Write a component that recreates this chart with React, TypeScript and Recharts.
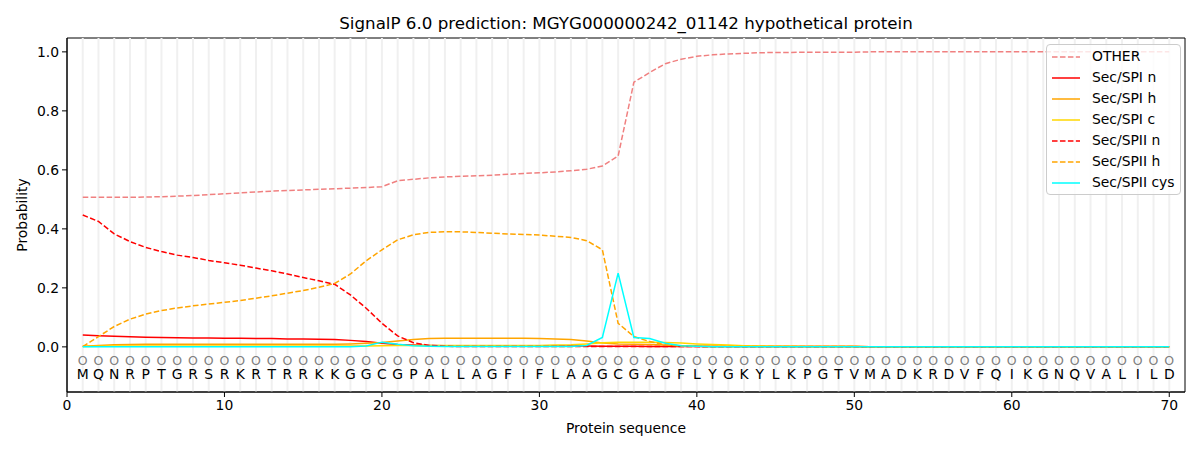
import React from 'react';
import { LineChart, Line, XAxis, YAxis, ReferenceLine, ReferenceArea, Legend, Label } from 'recharts';

const residues = ['M','Q','N','R','P','T','G','R','S','R','K','R','T','R','R','K','K','G','G','C','G','P','A','L','L','A','G','F','I','F','L','A','A','G','C','G','A','G','F','L','Y','G','K','Y','L','K','P','G','T','V','M','A','D','K','R','D','V','F','Q','I','K','G','N','Q','V','A','L','I','L','D'];

const positions = residues.map((_, i) => i + 1);

const otherProb = [
  0.507,0.507,0.507,0.507,0.508,0.509,0.511,0.513,0.516,0.519,
  0.522,0.525,0.528,0.530,0.532,0.534,0.536,0.538,0.540,0.543,
  0.563,0.568,0.573,0.576,0.578,0.580,0.582,0.585,0.588,0.590,
  0.593,0.597,0.602,0.613,0.647,0.897,0.930,0.960,0.975,0.985,
  0.990,0.993,0.995,0.997,0.998,0.998,0.999,0.999,0.999,0.999,
  1.0,1.0,1.0,1.0,1.0,1.0,1.0,1.0,1.0,1.0,
  1.0,1.0,1.0,1.0,1.0,1.0,1.0,1.0,1.0,1.0,
];

const spiN = [
  0.040,0.038,0.036,0.034,0.033,0.032,0.031,0.030,0.030,0.029,
  0.029,0.028,0.028,0.027,0.027,0.026,0.025,0.022,0.018,0.012,
  0.008,0.006,0.005,0.004,0.004,0.004,0.003,0.003,0.003,0.003,
  0.003,0.003,0.003,0.002,0.002,0.002,0.001,0.001,0.001,0.001,
  0.001,0.001,0.001,0.001,0.001,0.001,0.001,0.001,0.001,0.001,
  0,0,0,0,0,0,0,0,0,0,
  0,0,0,0,0,0,0,0,0,0,
];

const spiH = [
  0.002,0.005,0.007,0.008,0.009,0.009,0.009,0.009,0.009,0.009,
  0.009,0.009,0.009,0.009,0.009,0.009,0.009,0.010,0.012,0.015,
  0.020,0.025,0.028,0.029,0.029,0.029,0.029,0.029,0.029,0.028,
  0.027,0.025,0.020,0.013,0.010,0.009,0.008,0.006,0.004,0.003,
  0.002,0.002,0.001,0.001,0.001,0.001,0.001,0.001,0.001,0.001,
  0,0,0,0,0,0,0,0,0,0,
  0,0,0,0,0,0,0,0,0,0,
];

const spiC = [
  0.001,0.002,0.003,0.003,0.003,0.003,0.003,0.003,0.003,0.003,
  0.003,0.003,0.003,0.003,0.003,0.003,0.003,0.003,0.003,0.004,
  0.005,0.005,0.005,0.005,0.005,0.005,0.005,0.005,0.005,0.005,
  0.006,0.007,0.010,0.014,0.016,0.016,0.016,0.015,0.013,0.010,
  0.008,0.006,0.004,0.003,0.002,0.002,0.001,0.001,0.001,0.001,
  0,0,0,0,0,0,0,0,0,0,
  0,0,0,0,0,0,0,0,0,0,
];

const spiiN = [
  0.447,0.425,0.383,0.357,0.337,0.323,0.311,0.303,0.293,0.285,
  0.277,0.267,0.258,0.247,0.235,0.224,0.212,0.176,0.131,0.080,
  0.037,0.014,0.005,0.002,0.001,0.001,0.001,0.001,0.001,0.001,
  0.001,0.001,0.001,0.001,0.001,0.001,0.001,0.001,0.001,0.001,
  0,0,0,0,0,0,0,0,0,0,
  0,0,0,0,0,0,0,0,0,0,
  0,0,0,0,0,0,0,0,0,0,
];

const spiiH = [
  0.001,0.035,0.069,0.094,0.111,0.123,0.132,0.139,0.145,0.151,
  0.157,0.165,0.173,0.182,0.191,0.202,0.215,0.247,0.292,0.329,
  0.363,0.380,0.388,0.390,0.390,0.388,0.385,0.383,0.381,0.379,
  0.375,0.371,0.360,0.329,0.080,0.035,0.018,0.007,0.003,0.002,
  0.001,0.001,0.001,0.001,0.001,0.001,0.001,0.001,0.001,0.001,
  0,0,0,0,0,0,0,0,0,0,
  0,0,0,0,0,0,0,0,0,0,
];

const spiiCys = [
  0,0,0,0,0,0,0,0,0,0,
  0,0,0,0,0,0,0,0,0.003,0.016,
  0.009,0.004,0.002,0.001,0.001,0.001,0.001,0.001,0.001,0.001,
  0.001,0.001,0.005,0.032,0.250,0.032,0.028,0.012,0.004,0.002,
  0,0,0,0,0,0,0,0,0,0,
  0,0,0,0,0,0,0,0,0,0,
  0,0,0,0,0,0,0,0,0,0,
];

const xTicks = [0, 10, 20, 30, 40, 50, 60, 70];
const yTicks = [0, 0.2, 0.4, 0.6, 0.8, 1.0];

const X_DOMAIN: [number, number] = [0, 71];
const Y_DOMAIN: [number, number] = [-0.153, 1.047];
const CIRCLE_ROW_Y = -0.063;
const LETTER_ROW_Y = -0.1105;

const SERIES = [
  { key: 'other', name: 'OTHER', color: '#f08080', dash: true },
  { key: 'spiN', name: 'Sec/SPI n', color: '#ff0000', dash: false },
  { key: 'spiH', name: 'Sec/SPI h', color: '#ffa500', dash: false },
  { key: 'spiC', name: 'Sec/SPI c', color: '#ffd700', dash: false },
  { key: 'spiiN', name: 'Sec/SPII n', color: '#ff0000', dash: true },
  { key: 'spiiH', name: 'Sec/SPII h', color: '#ffa500', dash: true },
  { key: 'cys', name: 'Sec/SPII cys', color: '#00ffff', dash: false },
];

const data = positions.map((p, i) => ({
  pos: p,
  residue: residues[i],
  other: otherProb[i],
  spiN: spiN[i],
  spiH: spiH[i],
  spiC: spiC[i],
  spiiN: spiiN[i],
  spiiH: spiiH[i],
  cys: spiiCys[i],
}));

const FONT = '"DejaVu Sans", sans-serif';
const DASH = '5.55 2.4';

const LegendBox = () => (
  <div
    style={{
      border: '1px solid #cccccc',
      borderRadius: 4,
      background: 'rgba(255,255,255,0.8)',
      padding: '1px 5px 1px 5px',
      fontSize: 13.9,
      lineHeight: '21px',
      color: '#000',
      fontFamily: FONT,
      whiteSpace: 'nowrap',
    }}
  >
    {SERIES.map((s) => (
      <div key={s.key} style={{ display: 'flex', alignItems: 'center', height: 21 }}>
        <svg width={28} height={10} style={{ marginRight: 12, display: 'block' }}>
          <line x1={0} y1={5} x2={28} y2={5} stroke={s.color} strokeWidth={1.5} strokeDasharray={s.dash ? DASH : undefined} />
        </svg>
        <span>{s.name}</span>
      </div>
    ))}
  </div>
);

export default function App() {
  return (
    <div style={{ position: 'absolute', left: 0, top: 0, width: 1200, height: 450, fontFamily: FONT, background: '#fff' }}>
      <div
        style={{
          position: 'absolute',
          left: 67,
          width: 1118,
          top: 13,
          textAlign: 'center',
          fontSize: 16.7,
          lineHeight: '20px',
          color: '#000',
        }}
      >
        SignalP 6.0 prediction: MGYG000000242_01142 hypothetical protein
      </div>
      <LineChart width={1200} height={450} data={data} margin={{ top: 38, right: 15, left: 0, bottom: 0 }}>
        {positions.map((p) => (
          <ReferenceLine key={`g${p}`} x={p} stroke="#f0f0f0" strokeWidth={2} />
        ))}
        <XAxis
          dataKey="pos"
          type="number"
          domain={X_DOMAIN}
          ticks={xTicks}
          height={58}
          tickSize={5}
          tickMargin={3}
          stroke="#000"
          tick={{ fill: '#000', fontSize: 13.9 }}
          allowDataOverflow
        >
          <Label
            content={({ viewBox }: any) => (
              <text
                x={viewBox.x + viewBox.width / 2}
                y={viewBox.y + 41}
                textAnchor="middle"
                fontSize={13.9}
                fill="#000"
              >
                Protein sequence
              </text>
            )}
          />
        </XAxis>
        <YAxis
          type="number"
          domain={Y_DOMAIN}
          ticks={yTicks}
          width={67}
          tickSize={5}
          tickMargin={3}
          stroke="#000"
          tick={{ fill: '#000', fontSize: 13.9 }}
          tickFormatter={(v: number) => v.toFixed(1)}
          allowDataOverflow
        >
          <Label
            content={({ viewBox }: any) => {
              const cy = viewBox.y + viewBox.height / 2;
              return (
                <text
                  x={27}
                  y={cy}
                  transform={`rotate(-90 27 ${cy})`}
                  textAnchor="middle"
                  fontSize={13.9}
                  fill="#000"
                >
                  Probability
                </text>
              );
            }}
          />
        </YAxis>
        <ReferenceArea x1={X_DOMAIN[0]} x2={X_DOMAIN[1]} y1={Y_DOMAIN[0]} y2={Y_DOMAIN[1]} fill="none" stroke="#000" strokeWidth={1} fillOpacity={0} />
        {SERIES.map((s) => (
          <Line
            key={s.key}
            dataKey={s.key}
            name={s.name}
            stroke={s.color}
            strokeWidth={1.5}
            strokeDasharray={s.dash ? DASH : undefined}
            dot={false}
            activeDot={false}
            isAnimationActive={false}
            type="linear"
          />
        ))}
        <Line
          dataKey={() => CIRCLE_ROW_Y}
          stroke="none"
          legendType="none"
          isAnimationActive={false}
          activeDot={false}
          dot={(props: any) => (
            <text key={`c${props.index}`} x={props.cx} y={props.cy} textAnchor="middle" fontSize={12.5} fill="#808080">
              O
            </text>
          )}
        />
        <Line
          dataKey={() => LETTER_ROW_Y}
          stroke="none"
          legendType="none"
          isAnimationActive={false}
          activeDot={false}
          dot={(props: any) => (
            <text key={`r${props.index}`} x={props.cx} y={props.cy} textAnchor="middle" fontSize={13.9} fill="#000">
              {residues[props.index]}
            </text>
          )}
        />
        <Legend
          layout="horizontal"
          verticalAlign="middle"
          align="center"
          content={() => <LegendBox />}
          wrapperStyle={{ left: 1046, top: 44, width: 'auto', height: 'auto' }}
        />
      </LineChart>
    </div>
  );
}
